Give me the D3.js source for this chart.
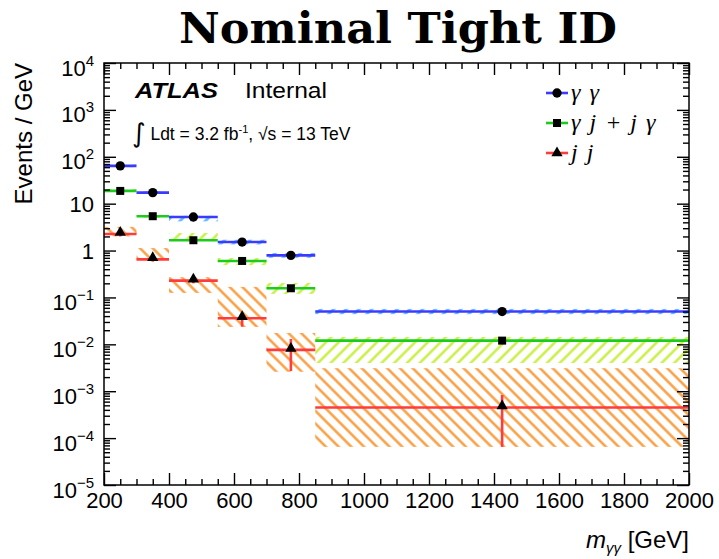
<!DOCTYPE html>
<html><head><meta charset="utf-8">
<script src="https://cdn.jsdelivr.net/npm/d3@7/dist/d3.min.js"></script>
<style>body{margin:0;background:#fff}svg{display:block}</style>
</head><body>
<script>
// ---- data ----
const binEdges = [200, 300, 400, 550, 700, 850, 2000];
const ggVal    = [64, 17.2, 5.2, 1.52, 0.79, 0.050];
const ggBandLo = [60, 16.2, 4.2, 1.35, 0.70, 0.044];
const ggBandHi = [68, 18.2, 5.5, 1.70, 0.89, 0.057];
const gjVal    = [18.7, 5.4, 1.66, 0.60, 0.157, 0.012];
const gjBandLo = [18.0, 5.0, 1.60, 0.49, 0.119, 0.0040];
const gjBandHi = [20.5, 5.7, 2.37, 0.695, 0.204, 0.0144];
const jjVal    = [2.26, 0.65, 0.228, 0.036, 0.0076, 0.00045];
const jjErrLo  = [2.0, 0.58, 0.20, 0.0238, 0.0027, 0.000065];
const jjErrHi  = [2.5, 0.72, 0.26, 0.048, 0.013, 0.00083];
const jjBandLo = [2.0, 0.63, 0.125, 0.0235, 0.0026, 0.000065];
const jjBandHi = [3.2, 1.13, 0.27, 0.168, 0.0175, 0.0031];
const xTicks = [200,400,600,800,1000,1200,1400,1600,1800,2000];
const yExps  = [-5,-4,-3,-2,-1,0,1,2,3,4];
const legendLabels = ["\u03b3 \u03b3", "\u03b3 j + j \u03b3", "j j"];

const W = 719, H = 559;
const svg = d3.select("body").append("svg").attr("width", W).attr("height", H);
const x = d3.scaleLinear().domain([200, 2000]).range([104, 689]);
const y = d3.scaleLog().domain([1e-5, 1e4]).range([485, 63]);
const sans = "'Liberation Sans', Arial, sans-serif";

// patterns
const defs = svg.append("defs");
function hatch(id, color, angle, sw) {
  const p = defs.append("pattern").attr("id", id).attr("patternUnits", "userSpaceOnUse")
    .attr("width", 9).attr("height", 9).attr("patternTransform", `rotate(${angle})`);
  p.append("line").attr("x1", 4.5).attr("y1", -1).attr("x2", 4.5).attr("y2", 10)
    .attr("stroke", color).attr("stroke-width", sw);
}
hatch("hOrange", "#f99a3a", -45, 2.4);
hatch("hLime", "#c6f03a", 45, 2.4);
hatch("hBlue", "#5fbaff", 45, 2.8);
defs.append("clipPath").attr("id", "clip").append("rect")
  .attr("x", 104).attr("y", 63).attr("width", 585).attr("height", 422);

const plot = svg.append("g").attr("clip-path", "url(#clip)");
const bins = d3.range(binEdges.length - 1);
const center = i => (binEdges[i] + binEdges[i + 1]) / 2;

function band(lo, hi, pat) {
  plot.append("g").selectAll("rect").data(bins).join("rect")
    .attr("x", i => x(binEdges[i])).attr("width", i => x(binEdges[i + 1]) - x(binEdges[i]))
    .attr("y", i => y(hi[i])).attr("height", i => y(lo[i]) - y(hi[i]))
    .attr("fill", `url(#${pat})`);
}
band(jjBandLo, jjBandHi, "hOrange");
band(gjBandLo, gjBandHi, "hLime");
band(ggBandLo, ggBandHi, "hBlue");

function series(vals, color, errLo, errHi) {
  const g = plot.append("g").attr("stroke", color).attr("stroke-width", 2.6);
  g.selectAll("line.h").data(bins).join("line").attr("class", "h")
    .attr("x1", i => x(binEdges[i])).attr("x2", i => x(binEdges[i + 1]))
    .attr("y1", i => y(vals[i])).attr("y2", i => y(vals[i]));
  if (errLo) {
    g.selectAll("line.v").data(bins).join("line").attr("class", "v")
      .attr("x1", i => x(center(i))).attr("x2", i => x(center(i)))
      .attr("y1", i => y(errHi[i])).attr("y2", i => y(errLo[i]));
  }
}
series(jjVal, "#ff3b3b", jjErrLo, jjErrHi);
series(gjVal, "#1ccc1c");
series(ggVal, "#3b3bff");

function markers(vals, type) {
  const g = plot.append("g").attr("fill", "#000");
  const sym = type === "circle" ? d3.symbolCircle : type === "square" ? d3.symbolSquare : d3.symbolTriangle;
  const size = type === "circle" ? 68 : type === "square" ? 64 : 55;
  g.selectAll("path").data(bins).join("path")
    .attr("transform", i => `translate(${x(center(i))},${y(vals[i]) + (type === "triangle" ? -1.5 : 0)})`)
    .attr("d", d3.symbol().type(sym).size(size));
}
markers(ggVal, "circle");
markers(gjVal, "square");
markers(jjVal, "triangle");

// axes
const axG = svg.append("g").attr("font-family", sans);
const xMinor = d3.range(200, 2001, 50).filter(v => v % 200 !== 0);
const yMinor = [];
for (let e = -5; e < 4; e++) for (let k = 2; k <= 9; k++) yMinor.push(k * Math.pow(10, e));
const yMajor = yExps.map(e => Math.pow(10, e));

function styleAxis(g) {
  g.selectAll("line").attr("stroke", "#000").attr("stroke-width", 1.4);
  g.select(".domain").remove();
}
// bottom
axG.append("g").attr("transform", "translate(0,485)")
  .call(d3.axisBottom(x).tickValues(xTicks).tickSizeInner(-12).tickSizeOuter(0).tickPadding(7).tickFormat(d3.format("d")))
  .call(styleAxis)
  .call(g => g.selectAll("text").attr("font-size", 22).attr("font-family", sans).attr("fill", "#000"));
axG.append("g").attr("transform", "translate(0,485)")
  .call(d3.axisBottom(x).tickValues(xMinor).tickSizeInner(-6).tickSizeOuter(0).tickFormat(""))
  .call(styleAxis);
// top
axG.append("g").attr("transform", "translate(0,63)")
  .call(d3.axisTop(x).tickValues(xTicks).tickSizeInner(-12).tickSizeOuter(0).tickFormat(""))
  .call(styleAxis);
axG.append("g").attr("transform", "translate(0,63)")
  .call(d3.axisTop(x).tickValues(xMinor).tickSizeInner(-6).tickSizeOuter(0).tickFormat(""))
  .call(styleAxis);
// left
axG.append("g").attr("transform", "translate(104,0)")
  .call(d3.axisLeft(y).tickValues(yMajor).tickSizeInner(-12).tickSizeOuter(0).tickPadding(10).tickFormat(""))
  .call(styleAxis)
  .call(g => g.selectAll(".tick text").each(function (d, i) {
    const e = yExps[i];
    const t = d3.select(this).attr("font-size", 22).attr("font-family", sans).attr("fill", "#000").attr("dy", null);
    if (e === 0 || e === 1) {
      t.attr("y", 8).text(e === 0 ? "1" : "10");
    } else {
      t.attr("y", 12);
      t.append("tspan").text("10");
      t.append("tspan").attr("font-size", 15).attr("dy", -10).text(e < 0 ? "\u2212" + (-e) : String(e));
    }
  }));
axG.append("g").attr("transform", "translate(104,0)")
  .call(d3.axisLeft(y).tickValues(yMinor).tickSizeInner(-6).tickSizeOuter(0).tickFormat(""))
  .call(styleAxis);
// right
axG.append("g").attr("transform", "translate(689,0)")
  .call(d3.axisRight(y).tickValues(yMajor).tickSizeInner(-12).tickSizeOuter(0).tickFormat(""))
  .call(styleAxis);
axG.append("g").attr("transform", "translate(689,0)")
  .call(d3.axisRight(y).tickValues(yMinor).tickSizeInner(-6).tickSizeOuter(0).tickFormat(""))
  .call(styleAxis);
// frame
svg.append("rect").attr("x", 104).attr("y", 63).attr("width", 585).attr("height", 422)
  .attr("fill", "none").attr("stroke", "#000").attr("stroke-width", 1.5);

// titles
svg.append("text").attr("x", 398).attr("y", 43).attr("text-anchor", "middle")
  .attr("font-family", "'DejaVu Serif', serif").attr("font-weight", "bold").attr("font-size", 42)
  .attr("textLength", 438).attr("lengthAdjust", "spacingAndGlyphs").text("Nominal Tight ID");

svg.append("text").attr("transform", "translate(32,63) rotate(-90)").attr("text-anchor", "end")
  .attr("font-family", sans).attr("font-size", 24).text("Events / GeV");

const xt = svg.append("text").attr("x", 689).attr("y", 548).attr("text-anchor", "end")
  .attr("font-family", sans).attr("font-size", 24);
xt.append("tspan").attr("font-style", "italic").text("m");
xt.append("tspan").attr("font-size", 15).attr("dy", 5).attr("font-style", "italic").text("\u03b3\u03b3");
xt.append("tspan").attr("dy", -5).text(" [GeV]");

// ATLAS label
svg.append("text").attr("x", 135).attr("y", 98).attr("font-family", sans)
  .attr("font-weight", "bold").attr("font-style", "italic").attr("font-size", 22)
  .attr("textLength", 83).attr("lengthAdjust", "spacingAndGlyphs").text("ATLAS");
svg.append("text").attr("x", 245).attr("y", 98).attr("font-family", sans).attr("font-size", 22)
  .attr("textLength", 82).attr("lengthAdjust", "spacingAndGlyphs").text("Internal");
const lumi = svg.append("text").attr("x", 132).attr("y", 140).attr("font-family", sans).attr("font-size", 17.5);
lumi.append("tspan").attr("font-size", 26).attr("font-family", "'DejaVu Sans', sans-serif").attr("dy", 2).text("\u222b");
lumi.append("tspan").attr("dy", -2).text(" Ldt =  3.2 fb");
lumi.append("tspan").attr("font-size", 11).attr("dy", -7).text("-1");
lumi.append("tspan").attr("dy", 7).text(", \u221as = 13 TeV");

// legend
const legColors = ["#3b3bff", "#1ccc1c", "#ff3b3b"];
const legSyms = [d3.symbolCircle, d3.symbolSquare, d3.symbolTriangle];
const legSizes = [68, 64, 55];
const leg = svg.append("g");
legendLabels.forEach((lab, i) => {
  const yy = 93 + i * 30;
  leg.append("line").attr("x1", 546).attr("x2", 568).attr("y1", yy).attr("y2", yy)
    .attr("stroke", legColors[i]).attr("stroke-width", 2.6);
  leg.append("path").attr("transform", `translate(557,${yy})`)
    .attr("d", d3.symbol().type(legSyms[i]).size(legSizes[i])).attr("fill", "#000");
  leg.append("text").attr("x", 571).attr("y", yy + 7).attr("font-family", "'Liberation Serif', serif")
    .attr("font-style", "italic").attr("font-size", 24).attr("word-spacing", 3).text(lab);
});
</script>
</body></html>
